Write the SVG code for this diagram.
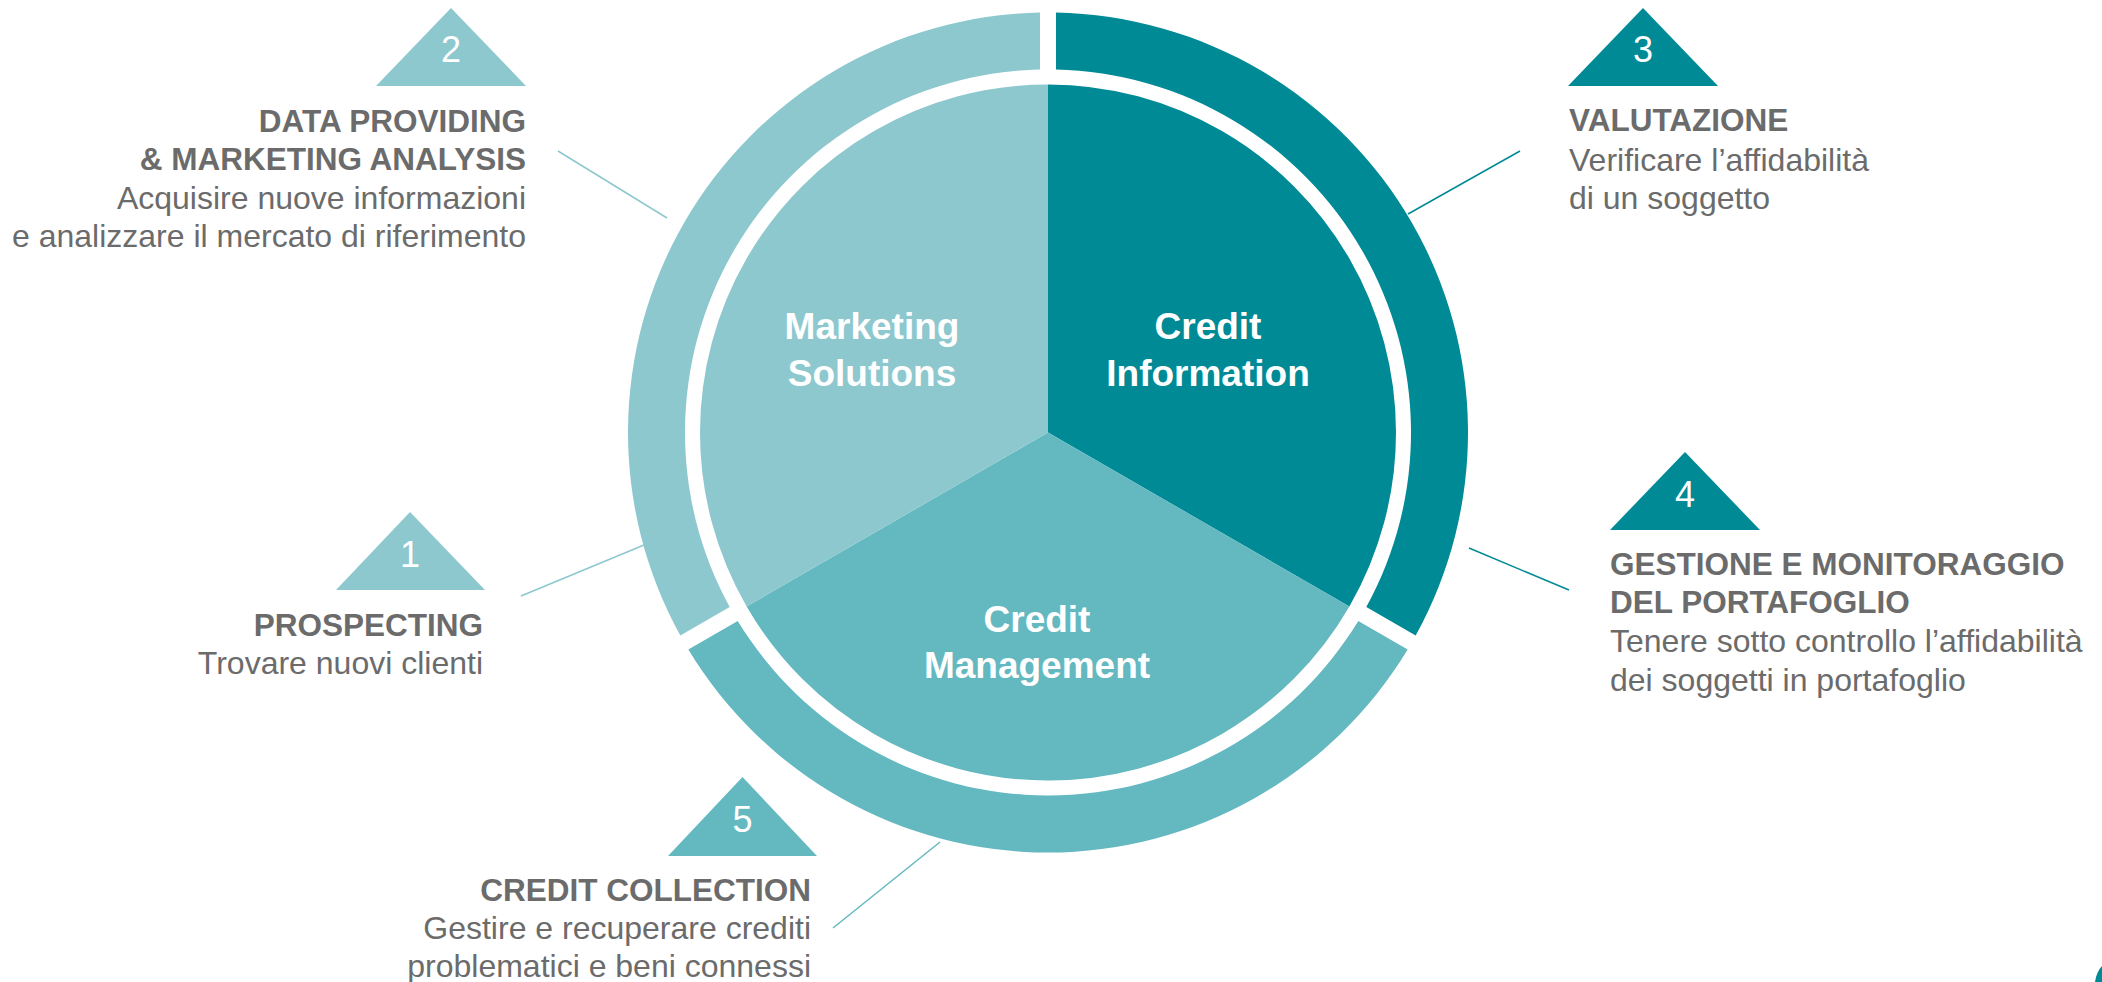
<svg xmlns="http://www.w3.org/2000/svg" width="2102" height="982" viewBox="0 0 2102 982">
<style>
.dark{fill:#008A96}
.med{fill:#64B8C0}
.light{fill:#8DC8CF}
.lbl{font-family:"Liberation Sans",Arial,sans-serif;fill:#FFFFFF;font-weight:bold;font-size:37px;text-anchor:middle}
.num{font-family:"Liberation Sans",Arial,sans-serif;fill:#FFFFFF;font-size:36px;text-anchor:middle}
.t{font-family:"Liberation Sans",Arial,sans-serif;fill:#6B6B6B;font-size:32px}
.b{font-weight:bold;font-size:31.5px}
.r{text-anchor:end}
.conn line{stroke-width:1.5;fill:none}
</style>
<rect width="2102" height="982" fill="#FFFFFF"/>
<g id="ring">
<path class="dark" d="M1056,12.58 A420,420 0 0 1 1415.67,635.53 L1366.29,607.03 A363,363 0 0 0 1056,69.59 Z"/>
<path class="med" d="M1407.67,649.39 A420,420 0 0 1 688.33,649.39 L737.71,620.88 A363,363 0 0 0 1358.29,620.88 Z"/>
<path class="light" d="M680.33,635.53 A420,420 0 0 1 1040,12.58 L1040,69.59 A363,363 0 0 0 729.71,607.03 Z"/>
</g>
<g id="credit-information">
<path class="dark" d="M1048,432.5 L1048,84.5 A348,348 0 0 1 1349.38,606.5 Z"/>
<text class="lbl" x="1208" y="339">Credit</text>
<text class="lbl" x="1208" y="386">Information</text>
</g>
<g id="credit-management">
<path class="med" d="M1048,432.5 L1349.38,606.5 A348,348 0 0 1 746.62,606.5 Z"/>
<text class="lbl" x="1037" y="632">Credit</text>
<text class="lbl" x="1037" y="678">Management</text>
</g>
<g id="marketing-solutions">
<path class="light" d="M1048,432.5 L746.62,606.5 A348,348 0 0 1 1048,84.5 Z"/>
<text class="lbl" x="872" y="339">Marketing</text>
<text class="lbl" x="872" y="386">Solutions</text>
</g>
<g class="conn" id="connectors">
<line x1="521" y1="596" x2="644" y2="545" stroke="#8DC8CF"/>
<line x1="558" y1="151" x2="667" y2="218" stroke="#8DC8CF"/>
<line x1="1520" y1="151" x2="1408" y2="214" stroke="#008A96"/>
<line x1="1469" y1="548" x2="1569" y2="590" stroke="#008A96"/>
<line x1="940" y1="842" x2="833" y2="928" stroke="#64B8C0"/>
</g>
<g id="step1">
<polygon class="light" points="410,512 336,590 485,590"/>
<text class="num" x="410" y="567">1</text>
<text class="t b r" x="483" y="636">PROSPECTING</text>
<text class="t r" x="483" y="674">Trovare nuovi clienti</text>
</g>
<g id="step2">
<polygon class="light" points="451,8 376,86 526,86"/>
<text class="num" x="451" y="62">2</text>
<text class="t b r" x="526" y="132">DATA PROVIDING</text>
<text class="t b r" x="526" y="170">&amp; MARKETING ANALYSIS</text>
<text class="t r" x="526" y="209">Acquisire nuove informazioni</text>
<text class="t r" x="526" y="247">e analizzare il mercato di riferimento</text>
</g>
<g id="step3">
<polygon class="dark" points="1643,8 1568,86 1718,86"/>
<text class="num" x="1643" y="62">3</text>
<text class="t b" x="1569" y="131">VALUTAZIONE</text>
<text class="t" x="1569" y="171">Verificare l’affidabilità</text>
<text class="t" x="1569" y="209">di un soggetto</text>
</g>
<g id="step4">
<polygon class="dark" points="1685,452 1610,530 1760,530"/>
<text class="num" x="1685" y="507">4</text>
<text class="t b" x="1610" y="575">GESTIONE E MONITORAGGIO</text>
<text class="t b" x="1610" y="613">DEL PORTAFOGLIO</text>
<text class="t" x="1610" y="652">Tenere sotto controllo l’affidabilità</text>
<text class="t" x="1610" y="691">dei soggetti in portafoglio</text>
</g>
<g id="step5">
<polygon class="med" points="742.5,777 668,856 817,856"/>
<text class="num" x="742.5" y="832">5</text>
<text class="t b r" x="811" y="901">CREDIT COLLECTION</text>
<text class="t r" x="811" y="939">Gestire e recuperare crediti</text>
<text class="t r" x="811" y="977">problematici e beni connessi</text>
</g>
<path class="dark" d="M2095,982 C2096,975 2098.5,969.5 2102,966 L2102,982 Z"/>
</svg>
